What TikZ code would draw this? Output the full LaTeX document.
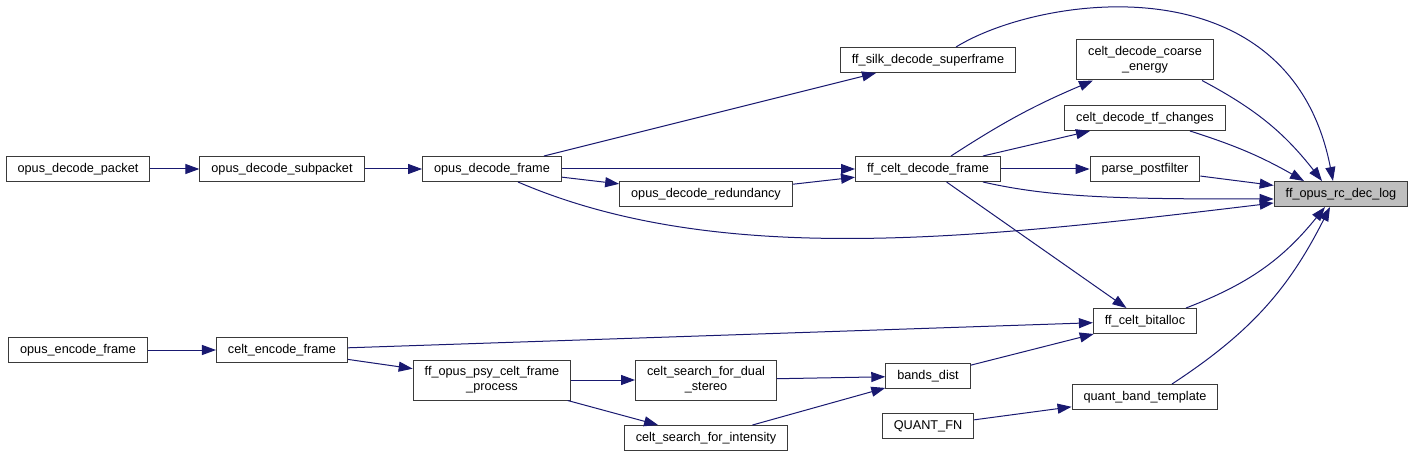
\documentclass[tikz,border=0pt]{standalone}
\usepackage{fontspec}
\setmainfont{Liberation Sans}
\usetikzlibrary{arrows.meta,positioning}
\definecolor{edgeblue}{HTML}{191970}
\definecolor{rootgray}{HTML}{BFBFBF}
\definecolor{boxline}{HTML}{3A3A3A}

\begin{document}
\begin{tikzpicture}[
  x=1pt,y=-1pt,
  fnbox/.style={rectangle,draw=boxline,fill=white,line width=1pt,minimum height=25pt,
    inner xsep=11.5pt,inner ysep=2pt,align=center,font=\fontsize{12.7}{15}\selectfont},
  rootbox/.style={fnbox,fill=rootgray},
  twoline/.style={minimum height=40pt},
  callarrow/.style={-{Triangle[length=14pt,width=10pt]},line width=1pt,edgeblue},
]
\useasboundingbox (0,0) rectangle (1413,457);

% Decoder side
\node[fnbox] (decpacket) at (78,169) {opus\_decode\_packet};
\node[fnbox] (decsub) at (282,169) {opus\_decode\_subpacket};
\node[fnbox] (decframe) at (492,169) {opus\_decode\_frame};
\node[fnbox] (decred) at (706,194) {opus\_decode\_redundancy};
\node[fnbox] (silk) at (928,60) {ff\_silk\_decode\_superframe};
\node[fnbox] (celtdec) at (928,169) {ff\_celt\_decode\_frame};
\node[fnbox,twoline] (coarse) at (1145,60) {celt\_decode\_coarse\\\_energy};
\node[fnbox] (tfchg) at (1145,118) {celt\_decode\_tf\_changes};
\node[fnbox] (postf) at (1145,169) {parse\_postfilter};

% Root
\node[rootbox] (rclog) at (1341,194) {ff\_opus\_rc\_dec\_log};

% Encoder side
\node[fnbox] (opusenc) at (78,350) {opus\_encode\_frame};
\node[fnbox] (celtenc) at (282,350) {celt\_encode\_frame};
\node[fnbox,twoline] (psy) at (492,380) {ff\_opus\_psy\_celt\_frame\\\_process};
\node[fnbox,twoline] (dualst) at (706,380) {celt\_search\_for\_dual\\\_stereo};
\node[fnbox] (intens) at (706,438) {celt\_search\_for\_intensity};
\node[fnbox] (bandsdist) at (928,376) {bands\_dist};
\node[fnbox] (quantfn) at (928,426) {QUANT\_FN};
\node[fnbox] (bitalloc) at (1145,321) {ff\_celt\_bitalloc};
\node[fnbox] (quanttpl) at (1145,397) {quant\_band\_template};

% Decoder calls
\draw[callarrow] (decpacket) -- (decsub);
\draw[callarrow] (decsub) -- (decframe);
\draw[callarrow] (decframe) -- (silk);
\draw[callarrow] (decframe) -- (celtdec);
\draw[callarrow] (decframe) -- (decred);
\draw[callarrow] (decred) -- (celtdec);
\draw[callarrow] ([xshift=26pt]decframe.south) .. controls +(200,86) and +(-300,36) .. ([yshift=-9pt]rclog.west);

% Celt decoder calls
\draw[callarrow] ([xshift=23pt]celtdec.north) to[bend left=5] ([xshift=-52pt]coarse.south);
\draw[callarrow] ([xshift=55pt]celtdec.north) -- ([xshift=-55pt]tfchg.south);
\draw[callarrow] (celtdec) -- (postf);
\draw[callarrow] ([xshift=55pt]celtdec.south) .. controls +(70,16) and +(-150,0) .. ([yshift=-5pt]rclog.west);
\draw[callarrow] (celtdec) -- (bitalloc);

% Arc over the top
\draw[callarrow] ([xshift=28pt]silk.north) .. controls +(84,-52) and +(-43,-222) .. ([xshift=-8pt]rclog.north);

% Into the root
\draw[callarrow] ([xshift=57pt]coarse.south) to[bend left=12] ([xshift=-19pt]rclog.north);
\draw[callarrow] ([xshift=45pt]tfchg.south) to[bend left=6] ([xshift=-37pt]rclog.north);
\draw[callarrow] (postf) -- (rclog);
\draw[callarrow] ([xshift=41pt]bitalloc.north) to[bend right=15] ([xshift=-16pt]rclog.south);
\draw[callarrow] ([xshift=27pt]quanttpl.north) to[bend right=15] ([xshift=-11pt]rclog.south);
\draw[callarrow] (quantfn) -- (quanttpl);

% Encoder calls
\draw[callarrow] (opusenc) -- (celtenc);
\draw[callarrow] (celtenc) -- (bitalloc);
\draw[callarrow] (celtenc) -- (psy);
\draw[callarrow] (psy) -- (dualst);
\draw[callarrow] (psy) -- (intens);
\draw[callarrow] (dualst) -- (bandsdist);
\draw[callarrow] (intens) -- (bandsdist);
\draw[callarrow] (bandsdist) -- (bitalloc);

\end{tikzpicture}
\end{document}
